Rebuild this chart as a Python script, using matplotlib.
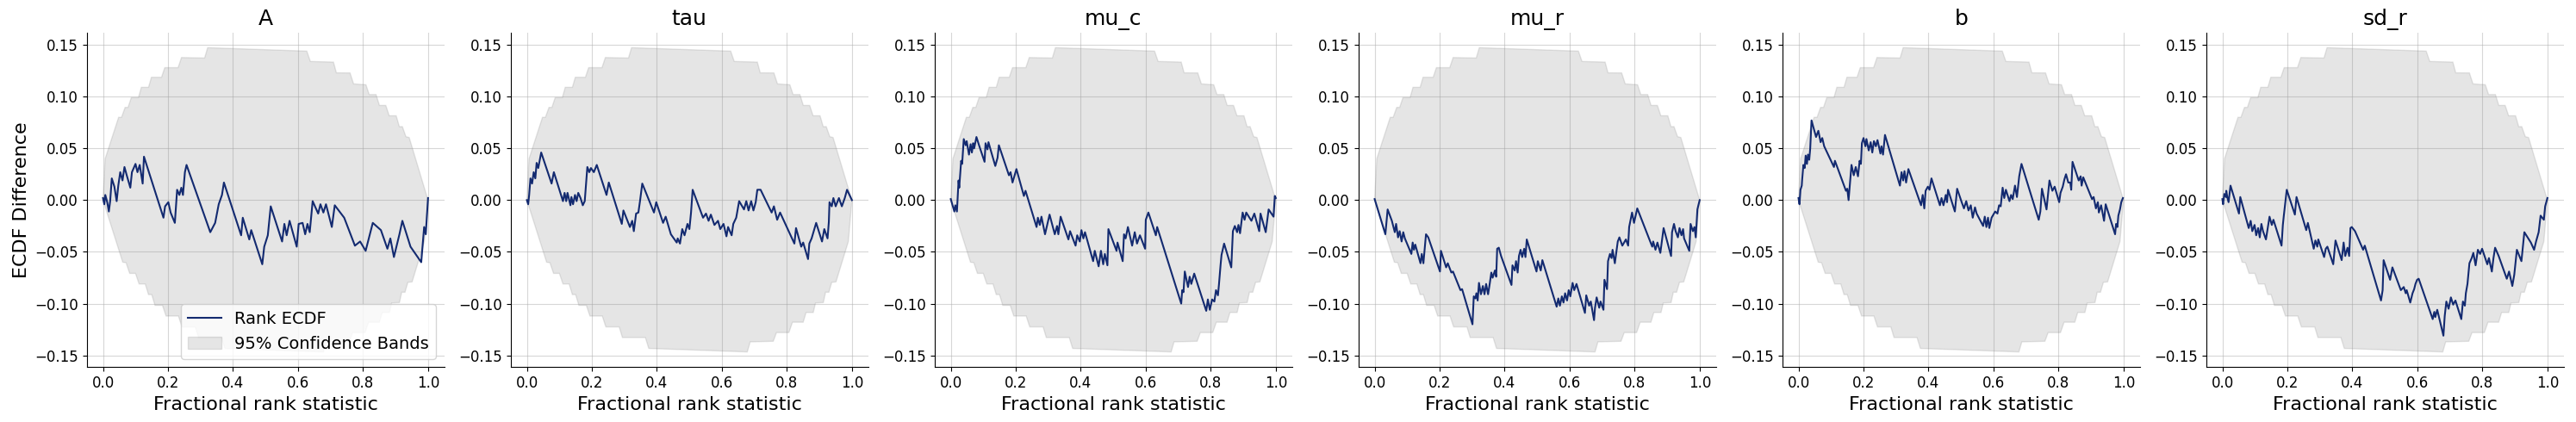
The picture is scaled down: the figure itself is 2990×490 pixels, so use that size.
import matplotlib
matplotlib.use("Agg")
import matplotlib.pyplot as plt

# ---------------- data ----------------
param_names = ["A", "tau", "mu_c", "mu_r", "b", "sd_r"]

# 95% simultaneous confidence band (ECDF difference), upper and lower outline
band_up_x = [0, 0.0066, 0.048, 0.057, 0.068, 0.077, 0.087, 0.109, 0.118, 0.140, 0.149, 0.180,
             0.190, 0.231, 0.2415, 0.3125, 0.322, 0.627, 0.638, 0.709, 0.718, 0.760, 0.771,
             0.809, 0.819, 0.840, 0.8505, 0.870, 0.8806, 0.902, 0.9117, 0.921, 0.932, 0.942, 1.0]
band_up_y = [0, 0.040, 0.080, 0.080, 0.0896, 0.0896, 0.099, 0.099, 0.109, 0.109, 0.1187, 0.1187,
             0.128, 0.128, 0.1378, 0.1373, 0.1473, 0.144, 0.134, 0.1334, 0.123, 0.1229, 0.1123,
             0.1115, 0.102, 0.102, 0.0915, 0.0915, 0.0815, 0.0815, 0.071, 0.071, 0.0613, 0.0605, 0]
band_lo_x = [0, 0.0607, 0.071, 0.082, 0.100, 0.111, 0.130, 0.140, 0.150, 0.160, 0.183, 0.194,
             0.232, 0.243, 0.284, 0.294, 0.3645, 0.375, 0.678, 0.687, 0.758, 0.768, 0.806,
             0.817, 0.850, 0.859, 0.881, 0.888, 0.912, 0.919, 0.929, 0.938, 0.951, 0.989, 1.0]
band_lo_y = [0, -0.060, -0.0605, -0.0708, -0.0708, -0.081, -0.081, -0.0913, -0.0913, -0.1017,
             -0.1017, -0.112, -0.112, -0.1225, -0.1225, -0.1328, -0.1328, -0.1433, -0.1467,
             -0.137, -0.1364, -0.128, -0.128, -0.118, -0.118, -0.1086, -0.1086, -0.0994,
             -0.099, -0.089, -0.089, -0.0794, -0.079, -0.040, 0]

# Rank ECDF difference curves (vertices)
x_A = [0.000, 0.004, 0.007, 0.013, 0.018, 0.022, 0.027, 0.035, 0.042, 0.047, 0.053, 0.060, 0.066,
       0.073, 0.084, 0.089, 0.100, 0.106, 0.113, 0.122, 0.126, 0.186, 0.191, 0.201, 0.208, 0.221,
       0.228, 0.235, 0.241, 0.246, 0.252, 0.257, 0.330, 0.345, 0.356, 0.366, 0.372, 0.425, 0.430,
       0.450, 0.456, 0.490, 0.496, 0.507, 0.516, 0.551, 0.558, 0.565, 0.574, 0.596, 0.602, 0.614,
       0.622, 0.629, 0.636, 0.645, 0.662, 0.669, 0.678, 0.686, 0.704, 0.713, 0.742, 0.775, 0.791,
       0.808, 0.830, 0.855, 0.875, 0.884, 0.895, 0.912, 0.921, 0.946, 0.979, 0.983, 0.988, 0.993,
       1.000]
y_A = [0.002, -0.004, 0.005, -0.002, -0.011, -0.001, 0.021, 0.013, -0.001, 0.014, 0.027, 0.019,
       0.032, 0.024, 0.012, 0.027, 0.035, 0.027, 0.034, 0.016, 0.042, -0.017, -0.006, -0.002,
       -0.012, -0.022, 0.010, 0.005, 0.012, 0.005, 0.027, 0.034, -0.031, -0.022, -0.004, 0.005,
       0.017, -0.034, -0.017, -0.038, -0.029, -0.062, -0.045, -0.034, -0.006, -0.040, -0.023,
       -0.034, -0.020, -0.045, -0.023, -0.022, -0.033, -0.023, -0.031, -0.001, -0.013, -0.004,
       -0.012, -0.004, -0.026, -0.005, -0.017, -0.044, -0.040, -0.049, -0.022, -0.029, -0.047,
       -0.037, -0.055, -0.033, -0.020, -0.045, -0.060, -0.045, -0.026, -0.033, 0.002]

x_tau = [0.000, 0.004, 0.007, 0.011, 0.016, 0.021, 0.026, 0.030, 0.035, 0.044, 0.076, 0.083, 0.111,
         0.116, 0.121, 0.125, 0.134, 0.137, 0.142, 0.148, 0.153, 0.158, 0.165, 0.172, 0.178, 0.186,
         0.192, 0.197, 0.206, 0.215, 0.245, 0.252, 0.292, 0.297, 0.317, 0.324, 0.329, 0.336, 0.343,
         0.348, 0.355, 0.391, 0.398, 0.419, 0.427, 0.443, 0.461, 0.464, 0.471, 0.478, 0.485, 0.494,
         0.500, 0.505, 0.510, 0.542, 0.551, 0.559, 0.566, 0.577, 0.588, 0.595, 0.605, 0.614, 0.619,
         0.630, 0.635, 0.644, 0.653, 0.668, 0.675, 0.682, 0.690, 0.697, 0.704, 0.709, 0.719, 0.753,
         0.760, 0.770, 0.779, 0.823, 0.828, 0.844, 0.850, 0.865, 0.869, 0.876, 0.890, 0.908, 0.915,
         0.925, 0.929, 0.931, 0.938, 0.943, 0.950, 0.960, 0.969, 0.978, 0.985, 1.000]
y_tau = [0.000, -0.004, 0.005, 0.021, 0.016, 0.027, 0.021, 0.036, 0.031, 0.046, 0.016, 0.027, -0.001,
         0.007, -0.001, 0.007, -0.005, 0.003, -0.004, 0.005, -0.001, 0.007, 0.002, -0.005, -0.001,
         0.032, 0.027, 0.031, 0.027, 0.034, 0.005, 0.017, -0.023, -0.010, -0.026, -0.020, -0.030,
         -0.013, -0.012, -0.001, 0.016, -0.012, -0.002, -0.022, -0.016, -0.033, -0.041, -0.037,
         -0.042, -0.028, -0.034, -0.023, -0.028, -0.012, 0.010, -0.017, -0.013, -0.020, -0.014,
         -0.024, -0.020, -0.028, -0.023, -0.035, -0.026, -0.034, -0.023, -0.017, -0.001, -0.009,
         -0.001, -0.010, -0.001, -0.010, -0.002, 0.010, 0.010, -0.012, -0.006, -0.019, -0.012,
         -0.042, -0.027, -0.045, -0.041, -0.057, -0.042, -0.037, -0.022, -0.040, -0.028, -0.037,
         -0.021, -0.002, -0.006, 0.002, -0.006, 0.002, -0.006, 0.002, 0.010, 0.000]

x_mu_c = [0.000, 0.011, 0.014, 0.019, 0.024, 0.026, 0.032, 0.035, 0.040, 0.046, 0.049, 0.056, 0.061,
          0.065, 0.069, 0.072, 0.079, 0.087, 0.104, 0.107, 0.113, 0.116, 0.125, 0.137, 0.144, 0.148,
          0.179, 0.184, 0.190, 0.202, 0.225, 0.230, 0.264, 0.268, 0.274, 0.279, 0.290, 0.304, 0.320,
          0.327, 0.331, 0.338, 0.362, 0.367, 0.384, 0.389, 0.397, 0.402, 0.408, 0.413, 0.438, 0.443,
          0.455, 0.462, 0.469, 0.474, 0.482, 0.485, 0.510, 0.513, 0.529, 0.533, 0.538, 0.545, 0.558,
          0.566, 0.573, 0.582, 0.598, 0.600, 0.608, 0.631, 0.635, 0.709, 0.712, 0.716, 0.720, 0.730,
          0.735, 0.740, 0.749, 0.786, 0.791, 0.797, 0.804, 0.811, 0.816, 0.822, 0.825, 0.830, 0.833,
          0.841, 0.863, 0.868, 0.874, 0.881, 0.885, 0.890, 0.898, 0.904, 0.909, 0.925, 0.934, 0.949,
          0.953, 0.969, 0.978, 0.993, 0.997, 1.000]
y_mu_c = [0.001, -0.011, -0.005, -0.011, 0.019, 0.012, 0.038, 0.035, 0.059, 0.053, 0.057, 0.044,
          0.054, 0.046, 0.055, 0.050, 0.061, 0.053, 0.037, 0.055, 0.049, 0.056, 0.046, 0.033, 0.041,
          0.053, 0.024, 0.027, 0.017, 0.030, 0.004, 0.009, -0.026, -0.017, -0.024, -0.016, -0.033,
          -0.014, -0.033, -0.025, -0.033, -0.016, -0.038, -0.030, -0.044, -0.034, -0.040, -0.029,
          -0.037, -0.031, -0.059, -0.049, -0.064, -0.049, -0.062, -0.052, -0.063, -0.028, -0.049,
          -0.041, -0.059, -0.033, -0.037, -0.026, -0.044, -0.031, -0.042, -0.034, -0.047, -0.019,
          -0.012, -0.034, -0.026, -0.100, -0.087, -0.089, -0.069, -0.084, -0.074, -0.081, -0.071,
          -0.107, -0.096, -0.106, -0.096, -0.098, -0.087, -0.092, -0.082, -0.063, -0.053, -0.042,
          -0.065, -0.030, -0.025, -0.031, -0.024, -0.032, -0.012, -0.019, -0.012, -0.020, -0.013,
          -0.030, -0.013, -0.031, -0.009, -0.016, 0.004, 0.002]

x_mu_r = [0.000, 0.033, 0.040, 0.053, 0.062, 0.066, 0.072, 0.077, 0.083, 0.088, 0.093, 0.113, 0.117,
          0.121, 0.125, 0.141, 0.145, 0.150, 0.158, 0.165, 0.201, 0.204, 0.220, 0.225, 0.236, 0.241,
          0.264, 0.269, 0.301, 0.305, 0.310, 0.313, 0.317, 0.321, 0.327, 0.333, 0.338, 0.343, 0.349,
          0.354, 0.359, 0.363, 0.370, 0.374, 0.377, 0.382, 0.389, 0.421, 0.424, 0.431, 0.435, 0.440,
          0.444, 0.449, 0.454, 0.460, 0.464, 0.468, 0.498, 0.502, 0.511, 0.516, 0.560, 0.565, 0.570,
          0.576, 0.581, 0.586, 0.592, 0.597, 0.602, 0.609, 0.614, 0.621, 0.647, 0.651, 0.660, 0.665,
          0.675, 0.678, 0.683, 0.691, 0.695, 0.704, 0.707, 0.715, 0.718, 0.724, 0.729, 0.732, 0.739,
          0.748, 0.753, 0.762, 0.773, 0.780, 0.783, 0.792, 0.798, 0.808, 0.854, 0.857, 0.864, 0.870,
          0.879, 0.889, 0.912, 0.915, 0.921, 0.926, 0.933, 0.938, 0.944, 0.949, 0.952, 0.968, 0.972,
          0.979, 0.984, 0.988, 0.993, 0.996, 1.000]
y_mu_r = [0.001, -0.033, -0.009, -0.020, -0.031, -0.023, -0.036, -0.030, -0.040, -0.031, -0.037,
          -0.052, -0.041, -0.048, -0.043, -0.061, -0.052, -0.061, -0.033, -0.036, -0.069, -0.049,
          -0.065, -0.061, -0.070, -0.069, -0.087, -0.086, -0.120, -0.093, -0.095, -0.090, -0.097,
          -0.080, -0.091, -0.083, -0.091, -0.081, -0.091, -0.081, -0.070, -0.075, -0.068, -0.074,
          -0.047, -0.046, -0.054, -0.082, -0.063, -0.068, -0.059, -0.070, -0.054, -0.048, -0.055,
          -0.047, -0.055, -0.038, -0.069, -0.059, -0.068, -0.058, -0.103, -0.095, -0.102, -0.093,
          -0.099, -0.090, -0.097, -0.087, -0.093, -0.080, -0.087, -0.081, -0.109, -0.092, -0.102,
          -0.098, -0.116, -0.104, -0.094, -0.104, -0.098, -0.106, -0.077, -0.086, -0.059, -0.052,
          -0.056, -0.048, -0.061, -0.040, -0.036, -0.044, -0.038, -0.044, -0.026, -0.012, -0.022,
          -0.008, -0.045, -0.040, -0.048, -0.041, -0.051, -0.027, -0.054, -0.031, -0.023, -0.030,
          -0.036, -0.027, -0.034, -0.028, -0.037, -0.049, -0.023, -0.030, -0.026, -0.036, -0.009,
          -0.005, 0.000]

x_b = [0.000, 0.003, 0.006, 0.010, 0.011, 0.015, 0.019, 0.022, 0.026, 0.029, 0.033, 0.036, 0.040,
       0.054, 0.061, 0.068, 0.073, 0.079, 0.109, 0.112, 0.146, 0.150, 0.154, 0.163, 0.170, 0.176,
       0.183, 0.188, 0.192, 0.195, 0.200, 0.206, 0.209, 0.216, 0.222, 0.227, 0.232, 0.238, 0.243,
       0.252, 0.255, 0.260, 0.266, 0.312, 0.317, 0.322, 0.326, 0.331, 0.338, 0.377, 0.382, 0.387,
       0.391, 0.398, 0.403, 0.409, 0.435, 0.440, 0.446, 0.453, 0.457, 0.460, 0.481, 0.488, 0.502,
       0.509, 0.516, 0.523, 0.530, 0.536, 0.543, 0.548, 0.568, 0.573, 0.578, 0.583, 0.587, 0.594,
       0.605, 0.612, 0.617, 0.622, 0.628, 0.633, 0.638, 0.649, 0.654, 0.659, 0.666, 0.672, 0.679,
       0.686, 0.739, 0.744, 0.749, 0.763, 0.772, 0.781, 0.788, 0.802, 0.806, 0.813, 0.818, 0.823,
       0.830, 0.836, 0.839, 0.843, 0.862, 0.868, 0.871, 0.876, 0.903, 0.908, 0.915, 0.921, 0.924,
       0.931, 0.940, 0.945, 0.974, 0.977, 0.981, 0.984, 0.989, 0.993, 0.998]
y_b = [0.002, -0.004, 0.010, 0.014, 0.019, 0.034, 0.031, 0.043, 0.035, 0.044, 0.039, 0.050, 0.077,
       0.061, 0.067, 0.056, 0.060, 0.052, 0.032, 0.038, 0.009, 0.011, 0.000, 0.034, 0.024, 0.032,
       0.023, 0.038, 0.035, 0.055, 0.060, 0.052, 0.059, 0.048, 0.056, 0.046, 0.057, 0.052, 0.058,
       0.045, 0.052, 0.044, 0.063, 0.014, 0.027, 0.019, 0.028, 0.017, 0.030, -0.005, 0.005, -0.008,
       0.009, 0.013, 0.010, 0.021, -0.005, 0.002, -0.005, 0.005, -0.002, 0.010, -0.011, 0.011,
       -0.002, -0.008, -0.001, -0.010, -0.005, -0.017, -0.007, -0.013, -0.025, -0.016, -0.026,
       -0.017, -0.027, -0.017, -0.011, -0.013, -0.005, -0.006, 0.012, 0.002, 0.010, -0.001, 0.005,
       0.001, 0.014, 0.003, 0.023, 0.035, -0.019, -0.011, 0.011, -0.009, 0.019, 0.009, 0.013,
       -0.002, 0.007, 0.013, 0.020, 0.025, 0.017, 0.017, 0.010, 0.037, 0.019, 0.023, 0.014, 0.022,
       0.001, 0.003, -0.008, -0.002, -0.012, -0.005, -0.020, -0.004, -0.033, -0.023, -0.026,
       -0.015, -0.009, -0.002, 0.002]

x_sd_r = [0.000, 0.002, 0.006, 0.011, 0.012, 0.015, 0.019, 0.025, 0.051, 0.055, 0.081, 0.087, 0.092,
          0.099, 0.104, 0.110, 0.115, 0.120, 0.125, 0.134, 0.145, 0.152, 0.157, 0.182, 0.186, 0.189,
          0.198, 0.223, 0.228, 0.258, 0.263, 0.281, 0.286, 0.292, 0.295, 0.313, 0.318, 0.323, 0.341,
          0.348, 0.367, 0.373, 0.378, 0.385, 0.390, 0.394, 0.398, 0.408, 0.433, 0.438, 0.488, 0.493,
          0.496, 0.516, 0.523, 0.549, 0.558, 0.564, 0.567, 0.578, 0.585, 0.590, 0.594, 0.599, 0.604,
          0.647, 0.652, 0.655, 0.661, 0.680, 0.684, 0.689, 0.696, 0.703, 0.710, 0.717, 0.735, 0.740,
          0.746, 0.749, 0.754, 0.760, 0.767, 0.772, 0.779, 0.786, 0.793, 0.799, 0.815, 0.820, 0.829,
          0.834, 0.839, 0.850, 0.875, 0.882, 0.892, 0.898, 0.906, 0.920, 0.929, 0.943, 0.949, 0.959,
          0.965, 0.973, 0.979, 0.989, 0.993, 1.000]
y_sd_r = [0.001, -0.004, 0.006, 0.003, 0.009, 0.003, -0.002, 0.014, -0.013, 0.003, -0.027, -0.020,
          -0.030, -0.024, -0.034, -0.027, -0.036, -0.023, -0.030, -0.038, -0.016, -0.024, -0.019,
          -0.044, -0.024, -0.015, 0.010, -0.014, 0.003, -0.029, -0.022, -0.047, -0.039, -0.045,
          -0.038, -0.055, -0.047, -0.045, -0.062, -0.039, -0.058, -0.041, -0.054, -0.046, -0.054,
          -0.027, -0.026, -0.030, -0.048, -0.044, -0.097, -0.087, -0.058, -0.077, -0.065, -0.087,
          -0.084, -0.090, -0.087, -0.099, -0.090, -0.086, -0.081, -0.077, -0.076, -0.115, -0.108,
          -0.113, -0.106, -0.131, -0.112, -0.098, -0.105, -0.094, -0.101, -0.097, -0.115, -0.098,
          -0.102, -0.090, -0.081, -0.061, -0.056, -0.051, -0.063, -0.048, -0.052, -0.047, -0.062,
          -0.056, -0.069, -0.056, -0.046, -0.054, -0.076, -0.069, -0.083, -0.072, -0.048, -0.059,
          -0.031, -0.038, -0.041, -0.048, -0.040, -0.031, -0.015, -0.019, -0.006, 0.002]

curves_x = [x_A, x_tau, x_mu_c, x_mu_r, x_b, x_sd_r]
curves_y = [y_A, y_tau, y_mu_c, y_mu_r, y_b, y_sd_r]

# ---------------- figure ----------------
line_color = "#132a70"
fig = plt.figure(figsize=(29.9, 4.9), dpi=100)

left0 = 100.7 / 2990
ax_w = 415.0 / 2990
step = 492.0 / 2990
bottom = 1 - 426.3 / 490
height = (426.3 - 37.7) / 490

band_poly_x = band_up_x + band_lo_x[::-1]
band_poly_y = band_up_y + band_lo_y[::-1]

for i, name in enumerate(param_names):
    ax = fig.add_axes([left0 + i * step, bottom, ax_w, height])
    ax.plot(curves_x[i], curves_y[i], color=line_color, lw=1.5, label="Rank ECDF")
    ax.fill(band_poly_x, band_poly_y, color="grey", alpha=0.2, lw=1.0,
            label="95% Confidence Bands")
    ax.set_title(name, fontsize=18)
    ax.set_xlabel("Fractional rank statistic", fontsize=16)
    if i == 0:
        ax.set_ylabel("ECDF Difference", fontsize=16)
        ax.legend(fontsize=14, loc="lower right")
    ax.tick_params(labelsize=12)
    ax.grid(alpha=0.5)
    ax.set_axisbelow(True)
    ax.spines["top"].set_visible(False)
    ax.spines["right"].set_visible(False)

fig.savefig("out.png", dpi=100)
